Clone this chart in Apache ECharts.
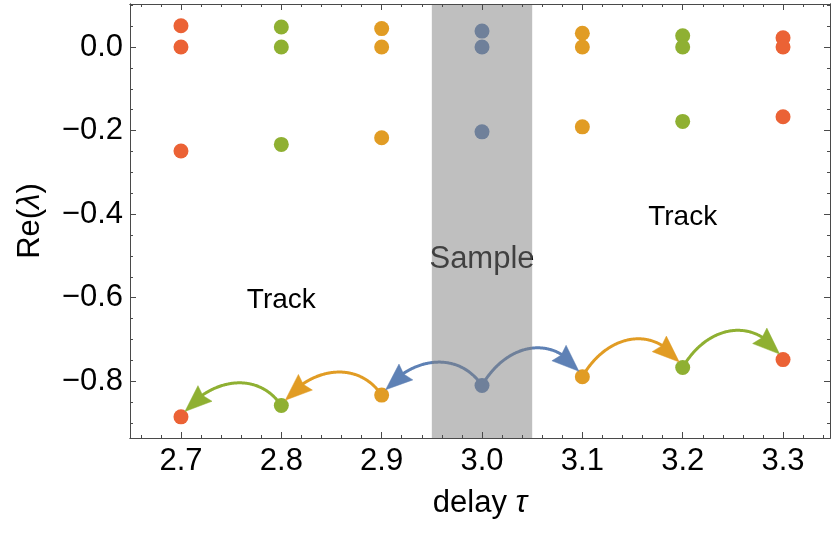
<!DOCTYPE html>
<html>
<head>
<meta charset="utf-8">
<script src="https://cdn.jsdelivr.net/npm/echarts@6/dist/echarts.min.js"></script>
<style>
  html, body { margin: 0; padding: 0; background: #fff; }
  #chart { width: 831px; height: 533px; }
</style>
</head>
<body>
<div id="chart"></div>
<script>
// Delay values and the real parts of the eigenvalues tracked at each delay
const tau = [2.7, 2.8, 2.9, 3.0, 3.1, 3.2, 3.3];
const reUpper = [0.051, 0.048, 0.044, 0.038, 0.033, 0.027, 0.022];
const reZero = [0, 0, 0, 0, 0, 0, 0];
const reMiddle = [-0.249, -0.233, -0.217, -0.203, -0.191, -0.178, -0.167];
const reLower = [-0.885, -0.858, -0.833, -0.810, -0.789, -0.767, -0.748];

// Sampled delay and the shaded band around it
const tauSample = 3.0;
const sampleBand = [2.95, 3.05];

// Axis ticks
const xTickValues = [2.7, 2.8, 2.9, 3.0, 3.1, 3.2, 3.3];
const yTickValues = [-0.8, -0.6, -0.4, -0.2, 0.0];

// Annotations (data coordinates)
const noteX = [2.8, 3.2, 3.0];
const noteY = [-0.6, -0.4, -0.5];
const noteText = ['Track', 'Track', 'Sample'];

const X_MIN = 2.6492, X_MAX = 3.3468;
const Y_MIN = -0.9356, Y_MAX = 0.1029;

const palette = ['#5E81B5', '#E19C24', '#8FB032', '#EB6235'];
const FONT = "'Liberation Sans', Arial, Helvetica, sans-serif";
const FRAME = '#4a4a4a';

// colour depends on how many steps a delay is from the sampled one
const stepOf = x => Math.round(Math.abs(x - tauSample) * 10);

const xMinor = [];
for (let k = 133; k <= 167; k++) xMinor.push(k / 50);
const yMinor = [];
for (let k = -18; k <= 2; k++) yMinor.push(k / 20);

const fmtY = v => (v < -1e-9 ? '\u2212' : '') + Math.abs(v).toFixed(1);

function makeAxis(dim, position, values, len, withLabels, extra) {
  const ax = Object.assign({
    type: 'value',
    position: position,
    min: dim === 'x' ? X_MIN : Y_MIN,
    max: dim === 'x' ? X_MAX : Y_MAX,
    z: 10,
    axisLine: { show: true, onZero: false, lineStyle: { color: FRAME, width: 1 } },
    axisTick: { show: true, inside: true, length: len, customValues: values,
                lineStyle: { color: FRAME, width: 1 } },
    axisLabel: { show: false },
    splitLine: { show: false },
    minorTick: { show: false },
    minorSplitLine: { show: false }
  }, extra || {});
  if (withLabels) {
    ax.axisLabel = {
      show: true, customValues: values,
      fontSize: 31, fontFamily: FONT, color: '#000',
      margin: dim === 'x' ? 8 : 7,
      formatter: dim === 'x' ? (v => v.toFixed(1)) : fmtY
    };
  }
  return ax;
}

const xAxes = [
  makeAxis('x', 'bottom', xTickValues, 6, true, {
    name: '{n|delay }{i|τ}', nameLocation: 'middle', nameGap: 50,
    nameTextStyle: { rich: {
      n: { fontSize: 31, fontFamily: FONT, color: '#000' },
      i: { fontSize: 31, fontFamily: FONT, color: '#000', fontStyle: 'italic' }
    } }
  }),
  makeAxis('x', 'bottom', xMinor, 3, false),
  makeAxis('x', 'top', xTickValues, 6, false),
  makeAxis('x', 'top', xMinor, 3, false)
];
const yAxes = [
  makeAxis('y', 'left', yTickValues, 6, true, {
    name: '{n|Re(}{i|λ}{n|)}', nameLocation: 'middle', nameGap: 84,
    nameTextStyle: { rich: {
      n: { fontSize: 31, fontFamily: FONT, color: '#000' },
      i: { fontSize: 31, fontFamily: FONT, color: '#000', fontStyle: 'italic' }
    } }
  }),
  makeAxis('y', 'left', yMinor, 3, false),
  makeAxis('y', 'right', yTickValues, 6, false),
  makeAxis('y', 'right', yMinor, 3, false)
];

function pointSeries(values) {
  return {
    type: 'scatter',
    z: 2,
    symbol: 'circle',
    symbolSize: 15,
    silent: true,
    data: tau.map((t, i) => [t, values[i]]),
    itemStyle: { opacity: 1, color: p => palette[stepOf(p.data[0])] }
  };
}

// tracking arrows: outward from the sampled delay along the lowest branch
const arcData = [];
const iS = tau.indexOf(tauSample);
for (let i = iS; i < tau.length - 1; i++) {
  arcData.push([tau[i], reLower[i], tau[i + 1], reLower[i + 1], stepOf(tau[i])]);
}
for (let i = iS; i > 0; i--) {
  arcData.push([tau[i], reLower[i], tau[i - 1], reLower[i - 1], stepOf(tau[i])]);
}

function cubic(p0, c1, c2, p1, t) {
  const u = 1 - t;
  const a = u * u * u, b = 3 * u * u * t, c = 3 * u * t * t, d = t * t * t;
  return [a * p0[0] + b * c1[0] + c * c2[0] + d * p1[0],
          a * p0[1] + b * c1[1] + c * c2[1] + d * p1[1]];
}

function renderArc(params, api) {
  const a = api.coord([api.value(0), api.value(1)]);
  const b = api.coord([api.value(2), api.value(3)]);
  const color = palette[api.value(4)];
  const dx = b[0] - a[0];
  const lift = dx > 0 ? 44 : 37;
  const c1 = [a[0] + 0.25 * dx, a[1] - lift];
  const c2 = [b[0] - 0.25 * dx, b[1] - lift];
  const N = 160;
  const pts = [];
  for (let k = 0; k <= N; k++) pts.push(cubic(a, c1, c2, b, k / N));
  // distance from the end along the curve
  const back = new Array(N + 1).fill(0);
  for (let k = N - 1; k >= 0; k--) {
    back[k] = back[k + 1] + Math.hypot(pts[k + 1][0] - pts[k][0], pts[k + 1][1] - pts[k][1]);
  }
  const TIP_GAP = 6, HEAD_L = 27, HEAD_W = 10.5, NOTCH = 3;
  let iTip = N;
  while (iTip > 0 && back[iTip] < TIP_GAP) iTip--;
  let iBase = iTip;
  while (iBase > 0 && back[iBase] - back[iTip] < HEAD_L) iBase--;
  const T = pts[iTip];
  const B = pts[iBase];
  let d = [T[0] - B[0], T[1] - B[1]];
  const dl = Math.hypot(d[0], d[1]);
  d = [d[0] / dl, d[1] / dl];
  const n = [-d[1], d[0]];
  const head = [
    T,
    [T[0] - HEAD_L * d[0] + HEAD_W * n[0], T[1] - HEAD_L * d[1] + HEAD_W * n[1]],
    [T[0] - (HEAD_L - NOTCH) * d[0], T[1] - (HEAD_L - NOTCH) * d[1]],
    [T[0] - HEAD_L * d[0] - HEAD_W * n[0], T[1] - HEAD_L * d[1] - HEAD_W * n[1]]
  ];
  let iLine = iTip;
  while (iLine > 0 && back[iLine] - back[iTip] < HEAD_L - NOTCH - 1) iLine--;
  const linePts = pts.slice(0, iLine + 1);
  return {
    type: 'group',
    children: [
      { type: 'polyline', shape: { points: linePts },
        style: { stroke: color, lineWidth: 3, fill: null } },
      { type: 'polygon', shape: { points: head },
        style: { fill: color, stroke: color, lineWidth: 0.5 } }
    ]
  };
}

const option = {
  animation: false,
  backgroundColor: '#fff',
  grid: { left: 130, right: 1, top: 4, bottom: 95, containLabel: false, outerBoundsMode: 'none' },
  xAxis: xAxes,
  yAxis: yAxes,
  series: [
    pointSeries(reUpper),
    pointSeries(reZero),
    pointSeries(reMiddle),
    pointSeries(reLower),
    {
      type: 'custom',
      z: 3,
      silent: true,
      data: arcData,
      encode: { x: [0, 2], y: [1, 3] },
      renderItem: renderArc
    },
    {
      type: 'custom',
      z: 3,
      silent: true,
      data: noteX.map((x, i) => [x, noteY[i], i]),
      encode: { x: 0, y: 1 },
      renderItem: (params, api) => {
        const p = api.coord([api.value(0), api.value(1)]);
        const label = noteText[api.value(2)];
        return {
          type: 'text', x: p[0], y: p[1] + 3,
          style: {
            text: label, fill: '#000',
            fontSize: label === 'Sample' ? 31 : 28, fontFamily: FONT,
            align: 'center', verticalAlign: 'middle'
          }
        };
      }
    },
    {
      // translucent band over the sampled delay
      type: 'custom',
      z: 8,
      silent: true,
      data: [sampleBand],
      encode: { x: [0, 1] },
      renderItem: (params, api) => {
        const cs = params.coordSys;
        const x0 = api.coord([api.value(0), 0])[0];
        const x1 = api.coord([api.value(1), 0])[0];
        return {
          type: 'rect',
          shape: { x: x0, y: cs.y, width: x1 - x0, height: cs.height },
          style: { fill: 'rgba(128,128,128,0.5)' }
        };
      }
    }
  ]
};

const chart = echarts.init(document.getElementById('chart'), null, { renderer: 'canvas' });
chart.setOption(option);
</script>
</body>
</html>
